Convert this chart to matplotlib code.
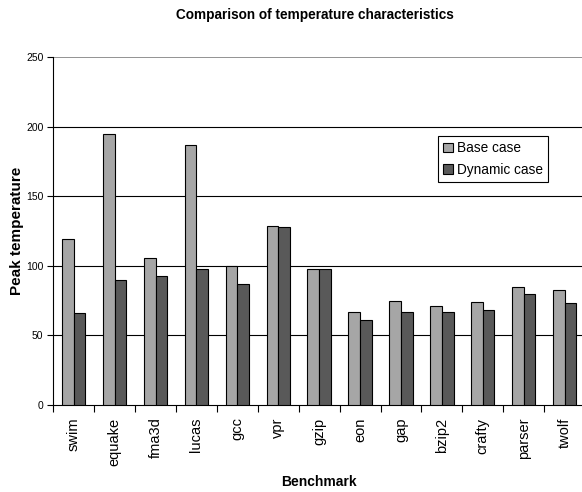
import numpy as np
import matplotlib
matplotlib.use('Agg')
import matplotlib.pyplot as plt

plt.rcParams['font.family'] = ['Liberation Sans', 'DejaVu Sans']

# Данные
benchmarks = ['swim', 'equake', 'fma3d', 'lucas', 'gcc', 'vpr', 'gzip',
              'eon', 'gap', 'bzip2', 'crafty', 'parser', 'twolf']
base_case = [119, 195, 106, 187, 100, 129, 98, 67, 74.5, 71, 74, 85, 83]
dynamic_case = [66, 90, 93, 98, 87, 128, 98, 61, 67, 67, 68, 80, 73]

W, H = 582, 492
fig = plt.figure(figsize=(W / 100, H / 100), dpi=100)
ax = fig.add_axes([53.3 / W, 1 - 405 / H, (585 - 53.3) / W, (405 - 57.3) / H])

x = np.arange(len(benchmarks))
bw = 0.285
ax.bar(x - bw / 2, base_case, bw, color='#a6a6a6', edgecolor='black', linewidth=0.8,
       label='Base case', zorder=3)
ax.bar(x + bw / 2, dynamic_case, bw, color='#595959', edgecolor='black', linewidth=0.8,
       label='Dynamic case', zorder=3)

ax.set_xlim(-0.5, len(benchmarks) - 0.5)
ax.set_ylim(0, 250)

# Сетка
for yv in [50, 100, 150, 200]:
    ax.axhline(yv, color='black', linewidth=0.8, zorder=1)
ax.axhline(250, color='#808080', linewidth=1.2, zorder=1)

for s in ['top', 'right']:
    ax.spines[s].set_visible(False)
ax.spines['left'].set_linewidth(0.8)
ax.spines['bottom'].set_linewidth(0.8)

ax.set_yticks([0, 50, 100, 150, 200, 250])
ax.tick_params(axis='y', labelsize=7.5, length=4, width=0.8, pad=3)

# Деления между категориями, подписи по центру
ax.set_xticks(np.arange(-0.5, len(benchmarks), 1.0))
ax.set_xticklabels([])
ax.tick_params(axis='x', which='major', length=5, width=0.8)
ax.set_xticks(x, minor=True)
ax.set_xticklabels(benchmarks, minor=True, rotation=90, fontsize=10.5)
ax.tick_params(axis='x', which='minor', length=0, pad=9)

ax.set_xlabel('Benchmark', fontsize=10, fontweight='bold', va='center')
ax.xaxis.set_label_coords(0.4997, -0.2215)
ax.set_ylabel('Peak temperature', fontsize=11, fontweight='bold')
ax.yaxis.set_label_coords(-0.055, 0.5)

fig.text(315 / W, 1 - 15 / H, 'Comparison of temperature characteristics',
         ha='center', va='center', fontsize=9.8, fontweight='bold')

leg = ax.legend(loc='upper left', bbox_to_anchor=(0.7235, 0.7737), borderaxespad=0,
                fancybox=False, edgecolor='black', framealpha=1, fontsize=9.8,
                handlelength=0.7, handleheight=0.7, handletextpad=0.3,
                borderpad=0.4, labelspacing=0.55)
leg.get_frame().set_linewidth(0.8)

fig.savefig('out.png', dpi=100)
